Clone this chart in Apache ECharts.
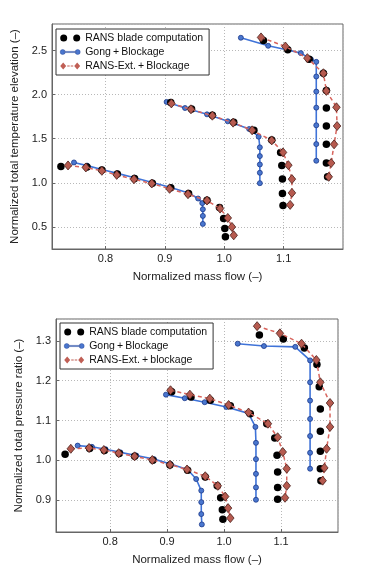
<!DOCTYPE html>
<html>
<head>
<meta charset="utf-8">
<script src="https://cdn.jsdelivr.net/npm/echarts@6/dist/echarts.min.js"></script>
<style>
  html, body { margin: 0; padding: 0; background: #fff; }
  #chart { width: 376px; height: 567px; }
</style>
</head>
<body>
<div id="chart"></div>
<script>
// top panel: normalized total temperature elevation vs mass flow
const tBlade1 = [[0.725,1.186],[0.769,1.180],[0.794,1.144],[0.820,1.100],[0.849,1.050],[0.879,0.996],[0.910,0.943],[0.940,0.879],[0.971,0.803],[0.992,0.720],[0.999,0.595],[1.001,0.481],[1.002,0.390]];
const tGong1 = [[0.747,1.231],[0.769,1.195],[0.794,1.152],[0.820,1.107],[0.849,1.058],[0.879,1.004],[0.910,0.948],[0.940,0.884],[0.956,0.822],[0.963,0.770],[0.964,0.700],[0.964,0.625],[0.964,0.534]];
const tExt1 = [[0.737,1.197],[0.767,1.174],[0.794,1.136],[0.819,1.090],[0.848,1.040],[0.878,0.992],[0.908,0.932],[0.939,0.871],[0.971,0.799],[0.993,0.708],[1.006,0.602],[1.013,0.500],[1.016,0.405]];
const tBlade2 = [[0.910,1.909],[0.945,1.837],[0.980,1.765],[1.016,1.686],[1.050,1.595],[1.080,1.485],[1.095,1.345],[1.097,1.197],[1.098,1.042],[1.098,0.879],[1.099,0.742]];
const tGong2 = [[0.903,1.917],[0.934,1.848],[0.971,1.776],[1.006,1.697],[1.042,1.610],[1.058,1.523],[1.060,1.402],[1.060,1.303],[1.060,1.208],[1.060,1.114],[1.060,0.996]];
const tExt2 = [[0.911,1.900],[0.944,1.833],[0.980,1.761],[1.015,1.682],[1.047,1.595],[1.080,1.481],[1.099,1.345],[1.108,1.200],[1.114,1.042],[1.114,0.886],[1.111,0.750]];
const tBlade3 = [[1.066,2.614],[1.107,2.508],[1.143,2.400],[1.167,2.242],[1.172,2.045],[1.172,1.848],[1.172,1.644],[1.172,1.436],[1.172,1.224],[1.174,1.068]];
const tGong3 = [[1.028,2.644],[1.074,2.553],[1.107,2.505],[1.129,2.470],[1.146,2.400],[1.155,2.371],[1.155,2.205],[1.155,2.034],[1.155,1.852],[1.155,1.652],[1.155,1.439],[1.155,1.250]];
const tExt3 = [[1.062,2.648],[1.103,2.545],[1.140,2.413],[1.167,2.242],[1.172,2.042],[1.189,1.856],[1.190,1.644],[1.185,1.436],[1.180,1.224],[1.176,1.068]];

// bottom panel: normalized total pressure ratio vs mass flow
const pBlade1 = [[0.721,1.015],[0.764,1.030],[0.790,1.025],[0.816,1.017],[0.843,1.010],[0.875,1.000],[0.905,0.988],[0.936,0.975],[0.967,0.958],[0.988,0.936],[0.994,0.906],[0.997,0.876],[0.998,0.852]];
const pGong1 = [[0.743,1.037],[0.768,1.034],[0.792,1.028],[0.818,1.020],[0.846,1.012],[0.877,1.003],[0.906,0.991],[0.936,0.977],[0.951,0.953],[0.960,0.924],[0.960,0.895],[0.960,0.865],[0.961,0.839]];
const pExt1 = [[0.731,1.029],[0.763,1.031],[0.789,1.026],[0.815,1.018],[0.843,1.010],[0.874,1.001],[0.905,0.989],[0.935,0.977],[0.967,0.960],[0.989,0.936],[1.002,0.909],[1.007,0.880],[1.011,0.855]];
const pBlade2 = [[0.908,1.172],[0.942,1.159],[0.976,1.151],[1.011,1.137],[1.046,1.117],[1.075,1.092],[1.089,1.056],[1.093,1.013],[1.094,0.971],[1.094,0.932],[1.094,0.902]];
const pGong2 = [[0.898,1.165],[0.931,1.156],[0.966,1.146],[1.004,1.134],[1.043,1.118],[1.055,1.084],[1.056,1.044],[1.056,1.003],[1.056,0.966],[1.056,0.932],[1.056,0.901]];
const pExt2 = [[0.906,1.176],[0.940,1.165],[0.975,1.155],[1.008,1.139],[1.043,1.120],[1.077,1.092],[1.094,1.058],[1.103,1.021],[1.110,0.979],[1.110,0.936],[1.107,0.906]];
const pBlade3 = [[1.062,1.315],[1.104,1.305],[1.141,1.282],[1.163,1.241],[1.167,1.185],[1.169,1.129],[1.169,1.073],[1.169,1.023],[1.169,0.979],[1.170,0.949]];
const pGong3 = [[1.024,1.293],[1.070,1.287],[1.125,1.285],[1.151,1.251],[1.151,1.196],[1.151,1.150],[1.151,1.104],[1.151,1.061],[1.151,1.019],[1.151,0.979]];
const pExt3 = [[1.058,1.337],[1.098,1.319],[1.136,1.293],[1.162,1.252],[1.169,1.196],[1.186,1.144],[1.186,1.084],[1.180,1.029],[1.176,0.981],[1.173,0.949]];

const BLADE = 'RANS blade computation';
const GONG = 'Gong\u2009+\u2009Blockage';
const EXT_T = 'RANS-Ext.\u2009+\u2009Blockage';
const EXT_P = 'RANS-Ext.\u2009+\u2009blockage';

const FONT = '"Liberation Sans", Arial, Helvetica, sans-serif';
const TXT = '#222';

const bladeIcon = 'path://M0,4a3.5,3.5 0 1,0 7,0a3.5,3.5 0 1,0 -7,0zM13,4a3.5,3.5 0 1,0 7,0a3.5,3.5 0 1,0 -7,0z';
const gongIcon = 'path://M0,4a2.5,2.5 0 1,0 5,0a2.5,2.5 0 1,0 -5,0zM15,4a2.5,2.5 0 1,0 5,0a2.5,2.5 0 1,0 -5,0zM4,3.4h12v1.2h-12z';
const extIcon = 'path://M0,4l3,-3.5l3,3.5l-3,3.5zM14,4l3,-3.5l3,3.5l-3,3.5zM7,3.5h2.5v1h-2.5zM10.5,3.5h2.5v1h-2.5z';

function blade(data, i) {
  return {
    name: BLADE, type: 'scatter', xAxisIndex: i, yAxisIndex: i, data,
    symbol: 'circle', symbolSize: 7.5,
    itemStyle: { color: '#000', opacity: 1 }, z: 3
  };
}
function gong(data, i) {
  return {
    name: GONG, type: 'line', xAxisIndex: i, yAxisIndex: i, data,
    symbol: 'circle', symbolSize: 5,
    lineStyle: { color: '#3f73d8', width: 1.6 },
    itemStyle: { color: '#4a77cf', borderColor: '#1d3a8a', borderWidth: 0.8 }, z: 2
  };
}
function ext(data, i, name) {
  return {
    name, type: 'line', xAxisIndex: i, yAxisIndex: i, data,
    symbol: 'diamond', symbolSize: [7.5, 9],
    lineStyle: { color: '#d8655e', width: 1.5, type: [4, 3] },
    itemStyle: { color: '#b65a4f', borderColor: '#4a201c', borderWidth: 0.8 }, z: 4
  };
}

function xAxis(i, min, max, gap) {
  return {
    type: 'value', gridIndex: i, min, max, name: 'Normalized mass flow (–)',
    nameLocation: 'middle', nameGap: gap,
    nameTextStyle: { fontFamily: FONT, fontSize: 11.5, color: TXT },
    axisLine: { show: true, lineStyle: { color: '#666' } },
    axisTick: { show: true, inside: true, length: 3, lineStyle: { color: '#666' } },
    axisLabel: { fontFamily: FONT, fontSize: 11, color: TXT, margin: 4,
      showMinLabel: false, showMaxLabel: false, formatter: v => v.toFixed(1) },
    splitLine: { show: true, lineStyle: { color: '#b8b8b8', type: [1, 2] } }
  };
}
function yAxis(i, min, max, name, gap) {
  return {
    type: 'value', gridIndex: i, min, max, name,
    nameLocation: 'middle', nameGap: gap,
    nameTextStyle: { fontFamily: FONT, fontSize: 11.5, color: TXT },
    axisLine: { show: true, lineStyle: { color: '#666' } },
    axisTick: { show: true, inside: true, length: 3, lineStyle: { color: '#666' } },
    axisLabel: { fontFamily: FONT, fontSize: 11, color: TXT, margin: 5,
      showMinLabel: false, showMaxLabel: false, formatter: v => v.toFixed(1) },
    splitLine: { show: true, lineStyle: { color: '#b8b8b8', type: [1, 2] } }
  };
}
function legend(left, top, extName) {
  return {
    orient: 'vertical', left, top, selectedMode: false,
    itemWidth: 20, itemHeight: 8, itemGap: 2,
    padding: [3, 6, 3, 4],
    borderColor: '#333', borderWidth: 1, backgroundColor: '#fff',
    textStyle: { fontFamily: FONT, fontSize: 10.5, color: '#111', lineHeight: 12 },
    data: [
      { name: BLADE, icon: bladeIcon },
      { name: GONG, icon: gongIcon, itemStyle: { borderWidth: 0.4 } },
      { name: extName, icon: extIcon, itemStyle: { color: '#c05f55', borderWidth: 0 } }
    ]
  };
}

const chart = echarts.init(document.getElementById('chart'));

chart.setOption({
  animation: false,
  backgroundColor: '#fff',
  grid: [
    { left: 52, top: 24, width: 291, height: 225, show: true, borderColor: '#666', borderWidth: 1 },
    { left: 56, top: 319, width: 282, height: 219, show: true, borderColor: '#666', borderWidth: 1 }
  ],
  xAxis: [xAxis(0, 0.71, 1.2, 22), xAxis(1, 0.705, 1.2, 22)],
  yAxis: [
    yAxis(0, 0.25, 2.8, 'Normalized total temperature elevation (–)', 29),
    yAxis(1, 0.82, 1.355, 'Normalized total pressure ratio (–)', 28)
  ],
  legend: [legend(56, 29, EXT_T), legend(60, 323, EXT_P)],
  series: [
    gong(tGong1, 0), gong(tGong2, 0), gong(tGong3, 0),
    blade(tBlade1, 0), blade(tBlade2, 0), blade(tBlade3, 0),
    ext(tExt1, 0, EXT_T), ext(tExt2, 0, EXT_T), ext(tExt3, 0, EXT_T),
    gong(pGong1, 1), gong(pGong2, 1), gong(pGong3, 1),
    blade(pBlade1, 1), blade(pBlade2, 1), blade(pBlade3, 1),
    ext(pExt1, 1, EXT_P), ext(pExt2, 1, EXT_P), ext(pExt3, 1, EXT_P)
  ]
});

window.addEventListener('resize', () => chart.resize());
</script>
</body>
</html>
